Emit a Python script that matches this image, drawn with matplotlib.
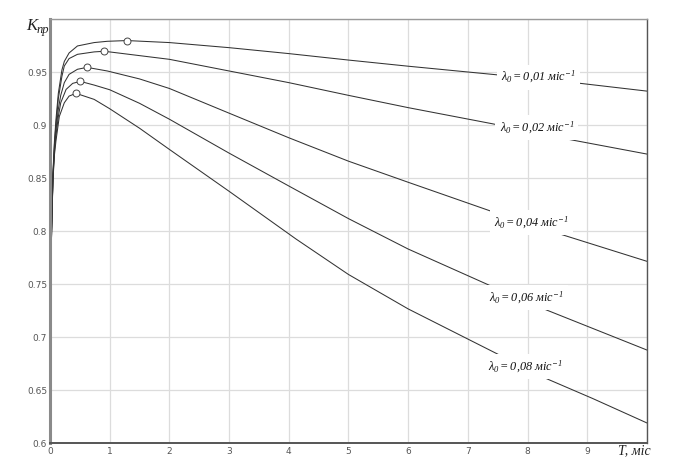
import matplotlib
matplotlib.use("Agg")
import matplotlib.pyplot as plt

plt.rcParams['mathtext.fontset'] = 'custom'
plt.rcParams['mathtext.rm'] = 'Liberation Serif:italic'
plt.rcParams['mathtext.it'] = 'Liberation Serif:italic'
plt.rcParams['mathtext.default'] = 'it'

# ---- data ----
lambdas = ["0,01", "0,02", "0,04", "0,06", "0,08"]

x1 = [0, 0.005, 0.012, 0.027, 0.05, 0.075, 0.1, 0.14, 0.2, 0.24, 0.32, 0.46, 0.74, 0.96, 1.29, 2, 3, 4, 5, 6, 7.41, 8.78, 10]
y1 = [0.6, 0.68, 0.75, 0.80, 0.855, 0.885, 0.905, 0.93, 0.952, 0.96, 0.968, 0.9746, 0.9778, 0.979, 0.9797, 0.9778, 0.973, 0.9674, 0.9613, 0.9555, 0.9478, 0.940, 0.932]

x2 = [0, 0.005, 0.012, 0.027, 0.05, 0.075, 0.1, 0.14, 0.2, 0.24, 0.32, 0.46, 0.74, 0.91, 2, 3, 4, 5, 6, 7.41, 8.64, 10]
y2 = [0.6, 0.68, 0.75, 0.80, 0.853, 0.882, 0.9, 0.925, 0.946, 0.9557, 0.9627, 0.9667, 0.969, 0.9696, 0.962, 0.951, 0.940, 0.928, 0.9164, 0.9012, 0.887, 0.8726]

x3 = [0, 0.005, 0.012, 0.027, 0.05, 0.075, 0.1, 0.14, 0.18, 0.24, 0.32, 0.46, 0.62, 0.96, 1.5, 2, 3, 4, 5, 6, 7.47, 8.45, 10]
y3 = [0.6, 0.68, 0.75, 0.80, 0.852, 0.878, 0.895, 0.915, 0.928, 0.94, 0.9478, 0.9526, 0.9544, 0.951, 0.9435, 0.9345, 0.9112, 0.888, 0.8659, 0.846, 0.8171, 0.7988, 0.7714]

x4 = [0, 0.005, 0.012, 0.027, 0.05, 0.075, 0.1, 0.14, 0.18, 0.27, 0.38, 0.507, 0.74, 1, 1.5, 2, 3, 4, 5, 6, 7.44, 8.25, 10]
y4 = [0.6, 0.68, 0.75, 0.80, 0.85, 0.875, 0.89, 0.908, 0.921, 0.9336, 0.9393, 0.9412, 0.9377, 0.9333, 0.9205, 0.9055, 0.8735, 0.8425, 0.8117, 0.783, 0.7468, 0.727, 0.6877]

x5 = [0, 0.005, 0.012, 0.027, 0.05, 0.075, 0.1, 0.156, 0.24, 0.32, 0.435, 0.74, 1, 1.5, 2, 3, 4.12, 5, 6, 7.53, 8.14, 9.09, 10]
y5 = [0.6, 0.68, 0.75, 0.80, 0.848, 0.872, 0.885, 0.908, 0.921, 0.9273, 0.9299, 0.9242, 0.9154, 0.897, 0.877, 0.8375, 0.7925, 0.759, 0.7265, 0.683, 0.665, 0.642, 0.6189]

# optimum points (markers)
peak_x = [1.29, 0.91, 0.62, 0.507, 0.435]
peak_y = [0.9797, 0.9696, 0.9544, 0.9412, 0.9299]

xticks = [0, 1, 2, 3, 4, 5, 6, 7, 8, 9]
yticks = [0.6, 0.65, 0.7, 0.75, 0.8, 0.85, 0.9, 0.95]
ytick_labels = ["0.6", "0.65", "0.7", "0.75", "0.8", "0.85", "0.9", "0.95"]

label_pos = [(7.56, 0.945), (7.53, 0.8977), (7.44, 0.808), (7.36, 0.737), (7.33, 0.672)]

# ---- figure ----
fig = plt.figure(figsize=(6.99, 4.76), dpi=100)
ax = fig.add_axes([0.0715, 0.0693, 0.8541, 0.8907])
ax.set_xlim(0, 10)
ax.set_ylim(0.6, 1.0)

for gx in range(0, 11):
    ax.axvline(gx, color="#dcdcdc", lw=0.9, zorder=0)
for gy in [0.6, 0.65, 0.7, 0.75, 0.8, 0.85, 0.9, 0.95, 1.0]:
    ax.axhline(gy, color="#dcdcdc", lw=0.9, zorder=0)

xs = [x1, x2, x3, x4, x5]
ys = [y1, y2, y3, y4, y5]
for xx, yy in zip(xs, ys):
    ax.plot(xx, yy, color="#333333", lw=0.75, zorder=2, solid_joinstyle="round")

ax.plot(peak_x, peak_y, linestyle="none", marker="o", markersize=5,
        markerfacecolor="white", markeredgecolor="#444444", markeredgewidth=0.7, zorder=4)

for lam, (lx, ly) in zip(lambdas, label_pos):
    ax.text(lx, ly, r"$\lambda_0 = " + lam.replace(",", "{,}") + r"\ міс^{-1}$",
            fontsize=8.8, color="#111111", ha="left", va="center", zorder=5,
            bbox=dict(boxstyle="square,pad=0.35", facecolor="white", edgecolor="none"))

ax.set_xticks(xticks)
ax.set_xticklabels([str(t) for t in xticks])
ax.set_yticks(yticks)
ax.set_yticklabels(ytick_labels)
ax.tick_params(axis="both", length=0, labelsize=6.5, colors="#555555")
ax.tick_params(axis="y", pad=2)
ax.tick_params(axis="x", pad=3)

ax.spines["left"].set_color("#8a8a8a")
ax.spines["left"].set_linewidth(2.2)
ax.spines["bottom"].set_color("#555555")
ax.spines["bottom"].set_linewidth(1.4)
ax.spines["right"].set_color("#555555")
ax.spines["right"].set_linewidth(1.0)
ax.spines["top"].set_color("#999999")
ax.spines["top"].set_linewidth(1.0)

fig.text(0.038, 0.945, "K", fontsize=12, family="Liberation Serif", style="italic",
         color="#222222", ha="left", va="center")
fig.text(0.052, 0.938, "пр", fontsize=9, family="Liberation Serif", style="italic",
         color="#222222", ha="left", va="center")

fig.text(0.884, 0.053, "T, міс", fontsize=10, family="Liberation Serif", style="italic",
         color="#222222", ha="left", va="center")

fig.savefig("out.png", dpi=100)
